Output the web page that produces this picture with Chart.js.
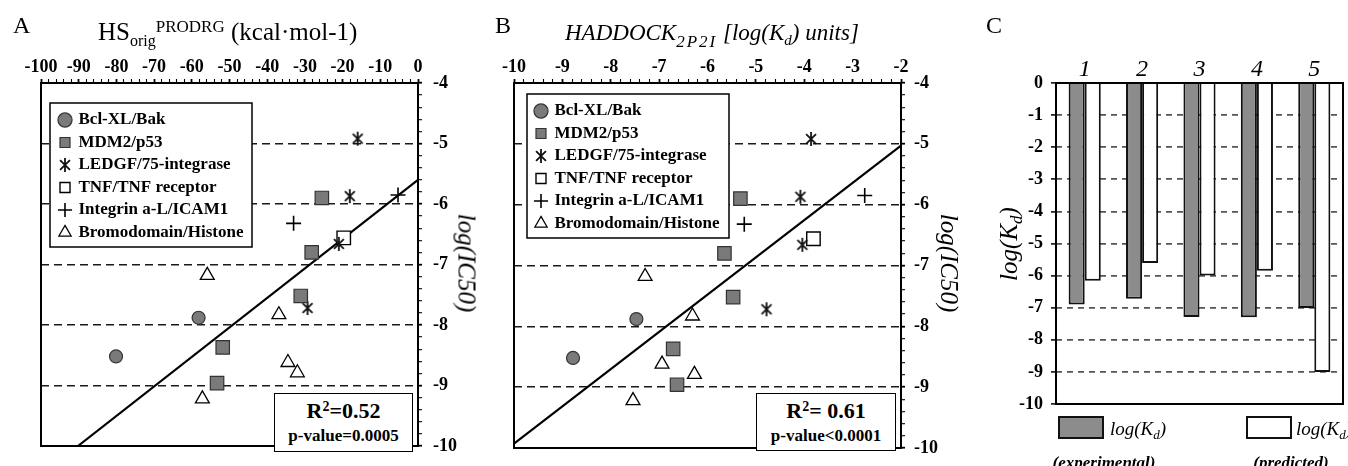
<!DOCTYPE html>
<html>
<head>
<meta charset="utf-8">
<title>HS / HADDOCK scores vs log(IC50)</title>
<script src="https://cdn.jsdelivr.net/npm/chart.js@4.4.0/dist/chart.umd.min.js"></script>
<style>
  body { margin: 0; background: #fff; }
  #fig { position: relative; width: 1348px; height: 466px; overflow: hidden; color: #000;
         font-family: "Liberation Serif", "Times New Roman", serif; }
  #fig canvas { position: absolute; top: 0; }
  .lbl { position: absolute; line-height: 1; white-space: nowrap; }
  .panel { font-size: 24px; }
  .it { font-style: italic; }
  .sub, .sup { position: relative; }
  .vt { position: absolute; line-height: 1; white-space: nowrap; font-style: italic; font-size: 25px; }
  .stat { position: absolute; box-sizing: border-box; border: 1.5px solid #000; background: #fff;
          text-align: center; font-weight: bold; padding-top: 5px; }
  .swatch { position: absolute; box-sizing: border-box; border: 2px solid #111; width: 46px; height: 23px; }
</style>
</head>
<body>
<div id="fig">
  <canvas id="chartA" width="485" height="466" style="left:0"></canvas>
  <canvas id="chartB" width="485" height="466" style="left:490px"></canvas>
  <canvas id="chartC" width="373" height="466" style="left:975px"></canvas>

  <div class="lbl panel" style="left:13px;top:13px">A</div>
  <div class="lbl" style="left:98px;top:19px;font-size:25px">HS<span class="sub" style="font-size:16px;top:6px">orig</span><span class="sup" style="font-size:17px;top:-8px">PRODRG</span> (kcal·mol-1)</div>
  <div class="vt" style="left:467px;top:263px;transform:translate(-50%,-50%) rotate(90deg)">log(IC50)</div>
  <div class="stat" style="left:274px;top:393px;width:139px;height:59px">
    <div style="font-size:22px;line-height:24px">R<span class="sup" style="font-size:14px;top:-7px">2</span>=0.52</div>
    <div style="font-size:17px;line-height:20px">p-value=0.0005</div>
  </div>

  <div class="lbl panel" style="left:495px;top:13px">B</div>
  <div class="lbl it" style="left:565px;top:21px;font-size:23px">HADDOCK<span class="sub" style="font-size:17px;top:7px;letter-spacing:2px">2P2I</span> [log(K<span class="sub" style="font-size:15px;top:5px">d</span>) units]</div>
  <div class="vt" style="left:949px;top:263px;transform:translate(-50%,-50%) rotate(90deg)">log(IC50)</div>
  <div class="stat" style="left:756px;top:393px;width:140px;height:58px">
    <div style="font-size:22px;line-height:24px">R<span class="sup" style="font-size:14px;top:-7px">2</span>= 0.61</div>
    <div style="font-size:17px;line-height:20px">p-value&lt;0.0001</div>
  </div>

  <div class="lbl panel" style="left:986px;top:13px">C</div>
  <div class="vt" style="left:1008px;top:244px;transform:translate(-50%,-50%) rotate(-90deg)">log(K<span class="sub" style="font-size:17px;top:5px">d</span>)</div>
  <div class="swatch" style="left:1058px;top:416px;background:#8c8c8c"></div>
  <div class="lbl it" style="left:1110px;top:419px;font-size:19px">log(K<span class="sub" style="font-size:13px;top:4px">d</span>)</div>
  <div class="swatch" style="left:1246px;top:416px;background:#fff"></div>
  <div class="lbl it" style="left:1296px;top:419px;font-size:19px">log(K<span class="sub" style="font-size:13px;top:4px">d</span>)</div>
  <div class="lbl it" style="left:1104px;top:454px;font-size:17px;font-weight:bold;transform:translateX(-50%)">(experimental)</div>
  <div class="lbl it" style="left:1291px;top:454px;font-size:17px;font-weight:bold;transform:translateX(-50%)">(predicted)</div>
</div>

<script>
// === Data: log(IC50) per complex (shared by A and B) ===
const complexNames = ['Bcl-XL/Bak', 'MDM2/p53', 'LEDGF/75-integrase', 'TNF/TNF receptor', 'Integrin a-L/ICAM1', 'Bromodomain/Histone'];

const bclIC50 = [-7.88, -8.52];
const mdmIC50 = [-5.90, -6.80, -7.52, -8.37, -8.96];
const ledgfIC50 = [-4.92, -5.87, -6.66, -7.72];
const tnfIC50 = [-6.56];
const integrinIC50 = [-5.85, -6.32];
const bromoIC50 = [-7.18, -7.83, -8.62, -8.79, -9.22];

// === Panel A: HS orig PRODRG (kcal/mol) ===
const bclHS = [-58.2, -80.1];
const mdmHS = [-25.5, -28.2, -31.1, -51.8, -53.3];
const ledgfHS = [-16.0, -18.1, -21.0, -29.3];
const tnfHS = [-19.7];
const integrinHS = [-5.3, -33.0];
const bromoHS = [-55.9, -36.9, -34.5, -32.0, -57.2];
const fitHS = [-90.2, 0];
const fitHSIC50 = [-10, -5.6];

// === Panel B: HADDOCK 2P2I (log(Kd) units) ===
const bclHaddock = [-7.47, -8.78];
const mdmHaddock = [-5.32, -5.65, -5.47, -6.71, -6.63];
const ledgfHaddock = [-3.86, -4.08, -4.04, -4.78];
const tnfHaddock = [-3.81];
const integrinHaddock = [-2.75, -5.24];
const bromoHaddock = [-7.29, -6.31, -6.94, -6.27, -7.54];
const fitHaddock = [-10, -2];
const fitHaddockIC50 = [-9.93, -5.03];

// === Panel C: log(Kd) experimental vs predicted ===
const targets = ['1', '2', '3', '4', '5'];
const kdExperimental = [-6.9, -6.72, -7.29, -7.3, -7.01];
const kdPredicted = [-6.16, -5.61, -6.0, -5.85, -9.0];

Chart.defaults.font.family = '"Liberation Serif", "Times New Roman", serif';
Chart.defaults.color = '#000';

const tickFont = { size: 18, weight: 'bold', lineHeight: 1 };
const isWhole = (v) => Math.abs(v - Math.round(v)) < 1e-6;
const toPoints = (xs, ys) => xs.map((x, i) => ({ x, y: ys[i] }));

// asterisk marker (6 arms), used for LEDGF
function makeAsterisk(size) {
  const c = document.createElement('canvas');
  c.width = c.height = size;
  const g = c.getContext('2d');
  const r = size / 2 - 1;
  g.strokeStyle = '#111';
  g.lineWidth = 1.8;
  g.beginPath();
  [90, 45, 135].forEach((deg) => {
    const a = deg * Math.PI / 180;
    g.moveTo(size / 2 - r * Math.cos(a), size / 2 - r * Math.sin(a));
    g.lineTo(size / 2 + r * Math.cos(a), size / 2 + r * Math.sin(a));
  });
  g.stroke();
  return c;
}

const markerStyles = [
  { style: 'circle', radius: 6.5, fill: '#7a7a7a', line: '#333', width: 1.2 },
  { style: 'rect', radius: 9.5, fill: '#7a7a7a', line: '#333', width: 1.2 },
  { style: makeAsterisk(16), radius: 7, fill: '#000', line: '#000', width: 1 },
  { style: 'rect', radius: 9.5, fill: '#fff', line: '#000', width: 1.4 },
  { style: 'cross', radius: 7.5, fill: '#000', line: '#000', width: 1.6 },
  { style: 'triangle', radius: 8, fill: '#fff', line: '#000', width: 1.3 }
];

// === Plugins: plot frame + boxed legend inside the plot ===
const frame = {
  id: 'frame',
  afterDraw(chart) {
    const { ctx, chartArea: a } = chart;
    ctx.save();
    ctx.strokeStyle = '#000';
    ctx.lineWidth = 2;
    ctx.strokeRect(a.left, a.top, a.width, a.height);
    ctx.restore();
  }
};

const legendBox = {
  id: 'legendBox',
  afterLayout(chart, args, opts) {
    const lg = chart.legend;
    const a = chart.chartArea;
    lg.left = a.left + opts.items.x;
    lg.top = a.top + opts.items.y;
    lg.right = a.right;
    lg.bottom = a.bottom;
  },
  beforeDatasetsDraw(chart, args, opts) {
    const { ctx, chartArea: a } = chart;
    const b = opts.box;
    ctx.save();
    ctx.fillStyle = '#fff';
    ctx.strokeStyle = '#000';
    ctx.lineWidth = 1.5;
    ctx.fillRect(a.left + b.x, a.top + b.y, b.w, b.h);
    ctx.strokeRect(a.left + b.x, a.top + b.y, b.w, b.h);
    ctx.restore();
    chart.legend.draw();
  }
};

function scatterSets(xLists, yLists, fitX, fitY) {
  const sets = complexNames.map((name, i) => {
    const m = markerStyles[i];
    return {
      label: name,
      data: toPoints(xLists[i], yLists[i]),
      pointStyle: m.style,
      pointRadius: m.radius,
      backgroundColor: m.fill,
      borderColor: m.line,
      borderWidth: m.width,
      pointBackgroundColor: m.fill,
      pointBorderColor: m.line,
      pointBorderWidth: m.width
    };
  });
  sets.push({
    label: 'fit',
    data: toPoints(fitX, fitY),
    showLine: true,
    borderColor: '#000',
    borderWidth: 2.2,
    pointRadius: 0
  });
  return sets;
}

function dashedGrid(color, lo, hi) {
  return (c) => {
    const v = c.tick ? c.tick.value : NaN;
    return isWhole(v) && v > lo + 1e-6 && v < hi - 1e-6 ? color : 'rgba(0,0,0,0)';
  };
}

function scatterOptions(cfg) {
  return {
    responsive: false,
    animation: false,
    events: [],
    layout: { padding: { left: cfg.padLeft, top: 0, right: 0, bottom: cfg.padBottom } },
    scales: {
      x: {
        type: 'linear',
        position: 'top',
        min: cfg.xMin,
        max: cfg.xMax,
        ticks: {
          stepSize: cfg.xStep,
          autoSkip: false,
          maxRotation: 0,
          minRotation: 0,
          padding: 3,
          color: '#000',
          font: tickFont,
          callback: (v) => isWhole(v / cfg.xMajor) ? String(Math.round(v)) : ''
        },
        grid: {
          drawOnChartArea: false,
          tickLength: 4,
          tickColor: '#000',
          tickWidth: (c) => c.tick && isWhole(c.tick.value / cfg.xMajor) ? 1.8 : 1.1
        },
        border: { display: false },
        afterFit: (s) => { s.height = 83; }
      },
      y: {
        type: 'linear',
        position: 'right',
        min: -10,
        max: -4,
        ticks: {
          stepSize: 0.2,
          autoSkip: false,
          padding: cfg.yPad,
          color: '#000',
          font: tickFont,
          callback: (v) => isWhole(v) ? String(Math.round(v)) : ''
        },
        grid: {
          color: dashedGrid('#1a1a1a', -10, -4),
          lineWidth: 1.4,
          tickLength: 4,
          tickColor: '#000',
          tickWidth: (c) => c.tick && isWhole(c.tick.value) ? 1.8 : 1.1
        },
        border: { display: false, dash: [8, 5] },
        afterFit: (s) => { s.width = cfg.axisRight; }
      }
    },
    plugins: {
      legend: {
        position: 'chartArea',
        align: 'start',
        labels: {
          usePointStyle: true,
          boxWidth: 10,
          boxHeight: 10,
          padding: 5.5,
          color: '#000',
          font: { size: 17, weight: 'bold' },
          filter: (item) => item.datasetIndex < complexNames.length
        }
      },
      tooltip: { enabled: false },
      legendBox: { box: cfg.box, items: cfg.items }
    }
  };
}

// === Panel A ===
new Chart(document.getElementById('chartA'), {
  type: 'scatter',
  data: {
    datasets: scatterSets(
      [bclHS, mdmHS, ledgfHS, tnfHS, integrinHS, bromoHS],
      [bclIC50, mdmIC50, ledgfIC50, tnfIC50, integrinIC50, bromoIC50],
      fitHS, fitHSIC50)
  },
  options: scatterOptions({
    xMin: -100, xMax: 0, xStep: 2, xMajor: 10,
    padLeft: 41, padBottom: 9, axisRight: 67, yPad: 11,
    box: { x: 9, y: 20, w: 202, h: 144 },
    items: { x: 13.5, y: 23 }
  }),
  plugins: [frame, legendBox]
});

// === Panel B ===
new Chart(document.getElementById('chartB'), {
  type: 'scatter',
  data: {
    datasets: scatterSets(
      [bclHaddock, mdmHaddock, ledgfHaddock, tnfHaddock, integrinHaddock, bromoHaddock],
      [bclIC50, mdmIC50, ledgfIC50, tnfIC50, integrinIC50, bromoIC50],
      fitHaddock, fitHaddockIC50)
  },
  options: scatterOptions({
    xMin: -10, xMax: -2, xStep: 0.2, xMajor: 1,
    padLeft: 24, padBottom: 10, axisRight: 74, yPad: 9,
    box: { x: 13, y: 11, w: 202, h: 144 },
    items: { x: 16.5, y: 14 }
  }),
  plugins: [frame, legendBox]
});

// === Panel C ===
new Chart(document.getElementById('chartC'), {
  type: 'bar',
  data: {
    labels: targets,
    datasets: [
      { label: 'log(Kd) experimental', data: kdExperimental, backgroundColor: '#8c8c8c', borderColor: '#111', borderWidth: 2 },
      { label: 'log(Kd) predicted', data: kdPredicted, backgroundColor: '#fff', borderColor: '#111', borderWidth: 2 }
    ]
  },
  options: {
    responsive: false,
    animation: false,
    events: [],
    layout: { padding: { left: 0, top: 0, right: 5, bottom: 62 } },
    datasets: { bar: { categoryPercentage: 0.56, barPercentage: 1 } },
    scales: {
      x: {
        position: 'top',
        grid: { display: false, drawTicks: false },
        border: { display: false },
        ticks: { padding: 1, color: '#000', maxRotation: 0, font: { size: 24, style: 'italic', lineHeight: 1 } },
        afterFit: (s) => { s.height = 83; }
      },
      y: {
        min: -10,
        max: 0,
        ticks: { stepSize: 1, padding: 8, color: '#000', font: tickFont, callback: (v) => String(Math.round(v)) },
        grid: {
          color: dashedGrid('#555', -10, 0),
          lineWidth: 1.8,
          tickLength: 5,
          tickColor: '#000',
          tickWidth: 1.5
        },
        border: { display: false, dash: [6, 5] },
        afterFit: (s) => { s.width = 81; }
      }
    },
    plugins: { legend: { display: false }, tooltip: { enabled: false } }
  },
  plugins: [frame]
});
</script>
</body>
</html>
